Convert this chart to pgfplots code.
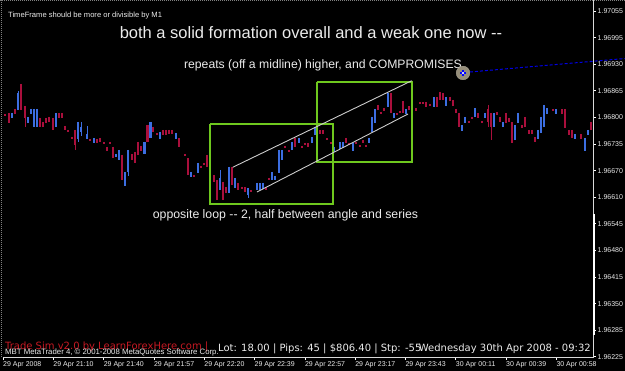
\documentclass[border=0pt]{standalone}
\usepackage{pgfplots}
\pgfplotsset{compat=1.18}
\usepackage{pgfplotstable}
\usepackage{fontspec}
\setmainfont{Liberation Sans}
\newfontfamily\dejavu{DejaVu Sans}
\definecolor{bull}{RGB}{60,110,225}
\definecolor{bear}{RGB}{170,15,60}
\definecolor{boxgreen}{RGB}{110,200,30}
\definecolor{txt}{RGB}{235,235,235}
\definecolor{redtxt}{RGB}{200,25,35}
\definecolor{markfill}{RGB}{150,142,122}

% candle data, y in screen units (top = 0), columns: x, body top, body bottom, wick top, wick bottom
\pgfplotstableread{
x top bot hi lo
12 113 118 113 118
18 93 110 91 110
28 117 123 117 123
31 109 114 109 114
34 109 127 109 127
37 109 127 109 127
56 113 127 113 127
78 122 139 122 142
81 127 132 122 136
87 134 139 126 139
94 138 143 138 143
116 154 157 154 157
119 150 160 150 160
125 172 186 172 186
128 150 172 150 176
144.5 142 154 142 154
150.5 122 138 122 138
160 132 139 132 139
176 133 139 133 139
191 172 177 172 177
198 163 173 163 173
210 167 173 167 173
220 178 190 170 190
229 167 193 167 193
235 178 188 178 188
248 188 195 188 198
257 183 190 183 190
260 183 190 183 190
263 183 189 183 189
272 172 180 172 180
275 176 180 176 180
279 150 173 150 173
282 150 160 150 160
292 142 150 142 150
299 138 143 138 143
312 137 143 137 143
315 127 135 127 135
334 147 152 147 152
340 142 149 142 149
343 142 148 142 148
353 143 151 143 151
369 138 143 138 143
372 117 132 117 132
375 109 123 109 123
388 93 107 93 107
394 113 118 113 118
406 109 114 109 114
434 97 107 97 107
446 97 106 97 106
462 125 131 125 131
465 117 123 117 123
475 108 117 108 117
485 113 118 113 118
494 113 127 113 127
503 122 127 122 127
515 125 140 125 140
518 113 123 113 123
538 130 139 130 139
541 117 133 117 133
544 105 127 105 127
547 108 114 108 114
556 109 114 109 114
575 134 139 134 139
585 138 151 138 151
588 130 135 130 135
}\bulltab

\pgfplotstableread{
x top bot hi lo
5 114 116 114 116
9 113 123 113 123
15 109 114 109 114
21 84 110 84 110
25 106 118 106 127
40 118 127 118 127
43 122 127 122 127
46 118 123 118 123
49 117 122 117 122
53 118 130 118 130
59 113 118 113 118
62 113 118 113 118
65 126 130 126 130
68 130 132 130 132
72 137 139 137 139
75 130 145 130 150
90 139 140 139 140
97 139 143 139 143
100 138 142 138 142
104 142 144 142 144
107 147 151 147 151
110 142 144 142 144
113 147 158 147 158
122 155 180 155 180
132 154 160 154 160
135 152 163 152 163
138 142 155 142 155
141 146 151 146 151
147.5 125 142 125 142
153 127 132 127 132
157 133 135 133 135
163 130 135 130 135
166 130 135 130 135
169 130 134 130 134
172 130 134 130 134
179 138 147 138 147
185 154 156 154 156
188 158 175 158 175
194 175 177 175 177
201 166 167 166 167
204 163 164 163 164
207 155 167 155 167
214 175 182 175 182
217 180 200 180 200
223 182 200 182 200
226 187 193 187 193
232 167 185 167 185
238 183 190 183 190
242 187 188 187 188
245 187 192 187 192
251 190 192 190 192
266 187 190 187 190
269 178 180 178 180
285 146 148 146 148
289 150 152 150 152
295 138 147 138 147
302 146 148 146 148
305 143 145 143 145
308 143 147 143 147
320 130 134 130 134
323 130 134 130 134
327 138 139 138 139
331 142 143 142 143
346 138 143 138 143
349 143 145 143 145
356 142 143 142 143
360 145 147 145 147
363 140 143 140 143
366 145 147 145 147
378 105 110 105 110
381 112 114 112 114
384 108 111 108 111
391 93 113 93 113
397 113 115 113 115
400 111 113 111 113
403 101 113 101 113
409 106 110 106 110
412 110 111 110 111
416 108 111 108 111
420 102 104 102 104
423 102 104 102 104
426 102 107 102 107
430 104 105 104 105
437 97 107 97 107
440 92 100 92 100
443 93 100 93 100
450 97 101 97 101
453 100 106 100 106
456 109 113 109 113
459 113 127 113 127
469 121 122 121 122
472 117 118 117 118
478 113 118 113 118
482 121 122 121 122
488 109 122 105 127
491 113 127 113 140
497 112 115 112 115
500 117 122 117 122
506 113 123 113 123
509 118 122 118 122
512 122 143 122 143
522 125 128 125 128
525 117 127 117 127
529 130 134 130 134
532 130 134 130 134
535 137 142 137 142
553 109 111 109 111
562 109 114 109 114
565 109 128 109 128
569 130 135 130 135
572 130 138 130 138
581 134 139 134 139
591 122 130 122 130
}\beartab

\begin{document}
\begin{tikzpicture}
\path[use as bounding box, fill=black] (0,0) rectangle (625pt,371pt);
\draw[gray, line width=1pt, dash pattern=on 1pt off 1pt] (0,370pt) -- (625pt,370pt);
\draw[gray, line width=1pt, dash pattern=on 1pt off 1pt] (1.5pt,371pt) -- (1.5pt,14pt);
\begin{axis}[
  at={(3pt,14pt)}, anchor=south west,
  scale only axis, width=590pt, height=355pt,
  xmin=3, xmax=593, ymin=2, ymax=357,
  y dir=reverse,
  clip=false,
  axis line style={draw=none},
  tick align=outside,
  major tick length=3pt,
  tick style={white, line width=0.6pt},
  xtick pos=bottom, ytick pos=right,
  xtick={3,53.3,103.6,153.9,204.2,254.5,304.8,355.1,405.4,455.7,506,556.3},
  xticklabels={29 Apr 2008,29 Apr 21:10,29 Apr 21:40,29 Apr 21:57,29 Apr 22:20,29 Apr 22:39,29 Apr 22:57,29 Apr 23:17,29 Apr 23:43,30 Apr 00:11,30 Apr 00:39,30 Apr 00:58},
  xticklabel style={anchor=north west, inner sep=0pt, yshift=-1.5pt, font=\fontsize{7}{8}\selectfont, text=txt},
  ytick={11,37.6,64.2,90.8,117.4,144,170.6,197.2,223.8,250.4,277,303.6,330.2,356.8},
  yticklabels={1.97055,1.96995,1.96930,1.96865,1.96800,1.96735,1.96670,1.96610,1.96545,1.96480,1.96415,1.96350,1.96285,1.96225},
  yticklabel style={anchor=west, inner sep=0pt, xshift=1.5pt, font=\fontsize{7}{8}\selectfont, text=txt},
  /pgf/number format/assume math mode=true,
]
% chart borders
\draw[white!85!black, line width=0.8pt] (axis cs:593,0) -- (axis cs:593,357) -- (axis cs:3,357);
\draw[white, line width=2pt] (axis cs:594,214) -- (axis cs:594,335);

% wicks
\addplot[bull, line width=0.9pt, mark=none, quiver={u=0, v={\thisrow{lo}-\thisrow{hi}}}] table[x=x, y=hi] {\bulltab};
\addplot[bear, line width=0.9pt, mark=none, quiver={u=0, v={\thisrow{lo}-\thisrow{hi}}}] table[x=x, y=hi] {\beartab};
% bodies
\addplot[bull, line width=2.8pt, mark=none, quiver={u=0, v={max(\thisrow{bot}-\thisrow{top},1.6)}}] table[x=x, y=top] {\bulltab};
\addplot[bear, line width=2.8pt, mark=none, quiver={u=0, v={max(\thisrow{bot}-\thisrow{top},1.6)}}] table[x=x, y=top] {\beartab};

% boxes
\addplot[boxgreen, line width=1.2pt, mark=none] coordinates {(210,124) (333,124) (333,204) (210,204) (210,124)};
\addplot[boxgreen, line width=1.2pt, mark=none] coordinates {(317,82) (412,82) (412,162) (317,162) (317,82)};
% channel
\addplot[white!80!black, line width=0.9pt, mark=none] coordinates {(232.7,167.3) (411.7,80.7)};
\addplot[white!80!black, line width=0.9pt, mark=none] coordinates {(257,192) (408,114)};
% dotted line and marker
\addplot[blue!90!black, line width=1pt, dash pattern=on 3pt off 2pt, mark=none] coordinates {(470,72) (625,58.5)};
\addplot[only marks, mark=*, mark size=6.8pt, mark options={fill=markfill, draw=markfill!80!white}] coordinates {(463,73)};
\addplot[only marks, mark=+, mark size=3pt, mark options={draw=blue, line width=1.3pt}] coordinates {(463,73)};
\addplot[only marks, mark=*, mark size=0.8pt, mark options={fill=white, draw=white}] coordinates {(463,73)};

% texts
\node[anchor=west, inner sep=0pt, text=txt, font=\fontsize{7.6}{9}\selectfont] at (axis cs:8,16) {TimeFrame should be more or divisible by M1};
\node[inner sep=0pt, text=txt, font=\fontsize{16.5}{19}\selectfont] at (axis cs:311,33) {both a solid formation overall and a weak one now -{}-};
\node[inner sep=0pt, text=txt, font=\fontsize{12.2}{14}\selectfont] at (axis cs:323,65) {repeats (off a midline) higher, and COMPROMISES};
\node[inner sep=0pt, text=txt, font=\fontsize{12.3}{14}\selectfont] at (axis cs:285.5,215) {opposite loop -{}- 2, half between angle and series};
\node[anchor=west, inner sep=0pt, text=redtxt, font=\dejavu\fontsize{10}{12}\selectfont] at (axis cs:5,347) {Trade Sim v2.0 by LearnForexHere.com |};
\node[anchor=west, inner sep=0pt, text=txt, font=\fontsize{7.8}{9}\selectfont] at (axis cs:5,352) {MBT MetaTrader 4, © 2001-2008 MetaQuotes Software Corp.};
\node[anchor=west, inner sep=0pt, text=txt, font=\dejavu\fontsize{10}{12}\selectfont] at (axis cs:218,349) {Lot: 18.00 | Pips: 45 | \$806.40 | Stp: -55};
\node[anchor=east, inner sep=0pt, text=txt, font=\dejavu\fontsize{10}{12}\selectfont] at (axis cs:591,349) {Wednesday 30th Apr 2008 - 09:32};
\end{axis}
\end{tikzpicture}
\end{document}
